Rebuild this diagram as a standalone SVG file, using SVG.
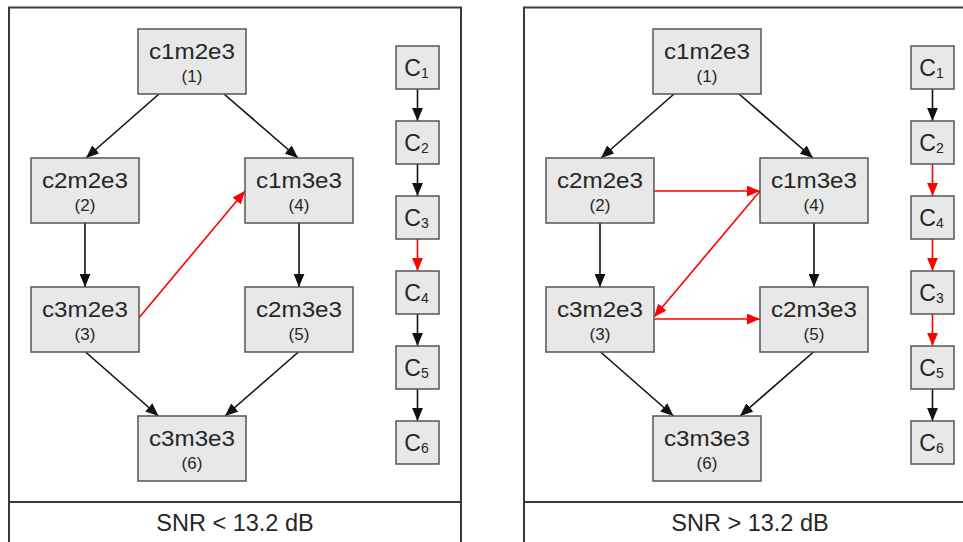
<svg xmlns="http://www.w3.org/2000/svg" width="963" height="542" viewBox="0 0 963 542">
<style>
text{font-family:"Liberation Sans",Arial,sans-serif;fill:#262626}
.panel{fill:#fff;stroke:#3a3a3a;stroke-width:2}
.box{fill:#e8e8e8;stroke:#555;stroke-width:1.5}
.main{font-size:21.5px;text-anchor:middle}
.num{font-size:17px;text-anchor:middle}
.cl{font-size:23px;text-anchor:middle}
.sub{font-size:14px}
.snr{font-size:23.5px;text-anchor:middle}
.e{fill:none;stroke:#111;stroke-width:1.6;marker-end:url(#ab)}
.r{fill:none;stroke:#ff0000;stroke-width:1.6;marker-end:url(#ar)}
</style>
<defs>
<marker id="ab" viewBox="0 0 12 10" refX="12" refY="5" markerWidth="13" markerHeight="11" markerUnits="userSpaceOnUse" orient="auto"><path d="M0,0 L12,5 L0,10 z" fill="#111"/></marker>
<marker id="ar" viewBox="0 0 12 10" refX="12" refY="5" markerWidth="13" markerHeight="11" markerUnits="userSpaceOnUse" orient="auto"><path d="M0,0 L12,5 L0,10 z" fill="#ff0000"/></marker>
</defs>

<g id="panel-left">
<rect class="panel" x="9" y="7.5" width="452" height="545"/>
<line x1="9" y1="502" x2="461" y2="502" stroke="#3a3a3a" stroke-width="2"/>
<text class="snr" x="235" y="531">SNR &lt; 13.2 dB</text>
</g>
<g id="panel-right">
<rect class="panel" x="524" y="7.5" width="452" height="545"/>
<line x1="524" y1="502" x2="976" y2="502" stroke="#3a3a3a" stroke-width="2"/>
<text class="snr" x="750" y="531">SNR &gt; 13.2 dB</text>
</g>

<g id="connectors">
<path class="e" d="M159,94 L86,158"/>
<path class="e" d="M224,94 L298,158"/>
<path class="e" d="M85,223 L85,287"/>
<path class="e" d="M299,223 L299,287"/>
<path class="e" d="M85,351.5 L158.5,416"/>
<path class="e" d="M299,351.5 L225,416"/>
<path class="r" d="M138,319 L245,191"/>
<path class="e" d="M417.5,89 L417.5,121"/>
<path class="e" d="M417.5,164 L417.5,196"/>
<path class="r" d="M417.5,239 L417.5,271"/>
<path class="e" d="M417.5,314 L417.5,346"/>
<path class="e" d="M417.5,389 L417.5,421"/>

<path class="e" d="M674,94 L601,158"/>
<path class="e" d="M739,94 L813,158"/>
<path class="e" d="M600,223 L600,287"/>
<path class="e" d="M814,223 L814,287"/>
<path class="e" d="M600,351.5 L673.5,416"/>
<path class="e" d="M814,351.5 L740,416"/>
<path class="r" d="M653,191 L760,191"/>
<path class="r" d="M760,191 L654,317"/>
<path class="r" d="M653,319 L760,319"/>
<path class="e" d="M932.5,89 L932.5,121"/>
<path class="r" d="M932.5,164 L932.5,196"/>
<path class="r" d="M932.5,239 L932.5,271"/>
<path class="r" d="M932.5,314 L932.5,346"/>
<path class="e" d="M932.5,389 L932.5,421"/>
</g>

<g id="L-n1"><rect class="box" x="138" y="29" width="108" height="65"/><text class="main" x="192" y="58.5" textLength="86" lengthAdjust="spacingAndGlyphs">c1m2e3</text><text class="num" x="192" y="81.5">(1)</text></g>
<g id="L-n2"><rect class="box" x="31" y="158" width="108" height="65"/><text class="main" x="85" y="187.5" textLength="86" lengthAdjust="spacingAndGlyphs">c2m2e3</text><text class="num" x="85" y="210.5">(2)</text></g>
<g id="L-n4"><rect class="box" x="245" y="158" width="108" height="65"/><text class="main" x="299" y="187.5" textLength="86" lengthAdjust="spacingAndGlyphs">c1m3e3</text><text class="num" x="299" y="210.5">(4)</text></g>
<g id="L-n3"><rect class="box" x="31" y="287" width="108" height="65"/><text class="main" x="85" y="316.5" textLength="86" lengthAdjust="spacingAndGlyphs">c3m2e3</text><text class="num" x="85" y="339.5">(3)</text></g>
<g id="L-n5"><rect class="box" x="245" y="287" width="108" height="65"/><text class="main" x="299" y="316.5" textLength="86" lengthAdjust="spacingAndGlyphs">c2m3e3</text><text class="num" x="299" y="339.5">(5)</text></g>
<g id="L-n6"><rect class="box" x="138" y="416" width="108" height="65"/><text class="main" x="192" y="445.5" textLength="86" lengthAdjust="spacingAndGlyphs">c3m3e3</text><text class="num" x="192" y="468.5">(6)</text></g>

<g id="L-C1"><rect class="box" x="396" y="46" width="43" height="43"/><text class="cl" x="416.5" y="75.5">C<tspan class="sub" dy="2">1</tspan></text></g>
<g id="L-C2"><rect class="box" x="396" y="121" width="43" height="43"/><text class="cl" x="416.5" y="150.5">C<tspan class="sub" dy="2">2</tspan></text></g>
<g id="L-C3"><rect class="box" x="396" y="196" width="43" height="43"/><text class="cl" x="416.5" y="225.5">C<tspan class="sub" dy="2">3</tspan></text></g>
<g id="L-C4"><rect class="box" x="396" y="271" width="43" height="43"/><text class="cl" x="416.5" y="300.5">C<tspan class="sub" dy="2">4</tspan></text></g>
<g id="L-C5"><rect class="box" x="396" y="346" width="43" height="43"/><text class="cl" x="416.5" y="375.5">C<tspan class="sub" dy="2">5</tspan></text></g>
<g id="L-C6"><rect class="box" x="396" y="421" width="43" height="43"/><text class="cl" x="416.5" y="450.5">C<tspan class="sub" dy="2">6</tspan></text></g>

<g id="R-n1"><rect class="box" x="653" y="29" width="108" height="65"/><text class="main" x="707" y="58.5" textLength="86" lengthAdjust="spacingAndGlyphs">c1m2e3</text><text class="num" x="707" y="81.5">(1)</text></g>
<g id="R-n2"><rect class="box" x="546" y="158" width="108" height="65"/><text class="main" x="600" y="187.5" textLength="86" lengthAdjust="spacingAndGlyphs">c2m2e3</text><text class="num" x="600" y="210.5">(2)</text></g>
<g id="R-n4"><rect class="box" x="760" y="158" width="108" height="65"/><text class="main" x="814" y="187.5" textLength="86" lengthAdjust="spacingAndGlyphs">c1m3e3</text><text class="num" x="814" y="210.5">(4)</text></g>
<g id="R-n3"><rect class="box" x="546" y="287" width="108" height="65"/><text class="main" x="600" y="316.5" textLength="86" lengthAdjust="spacingAndGlyphs">c3m2e3</text><text class="num" x="600" y="339.5">(3)</text></g>
<g id="R-n5"><rect class="box" x="760" y="287" width="108" height="65"/><text class="main" x="814" y="316.5" textLength="86" lengthAdjust="spacingAndGlyphs">c2m3e3</text><text class="num" x="814" y="339.5">(5)</text></g>
<g id="R-n6"><rect class="box" x="653" y="416" width="108" height="65"/><text class="main" x="707" y="445.5" textLength="86" lengthAdjust="spacingAndGlyphs">c3m3e3</text><text class="num" x="707" y="468.5">(6)</text></g>

<g id="R-C1"><rect class="box" x="911" y="46" width="43" height="43"/><text class="cl" x="931.5" y="75.5">C<tspan class="sub" dy="2">1</tspan></text></g>
<g id="R-C2"><rect class="box" x="911" y="121" width="43" height="43"/><text class="cl" x="931.5" y="150.5">C<tspan class="sub" dy="2">2</tspan></text></g>
<g id="R-C4"><rect class="box" x="911" y="196" width="43" height="43"/><text class="cl" x="931.5" y="225.5">C<tspan class="sub" dy="2">4</tspan></text></g>
<g id="R-C3"><rect class="box" x="911" y="271" width="43" height="43"/><text class="cl" x="931.5" y="300.5">C<tspan class="sub" dy="2">3</tspan></text></g>
<g id="R-C5"><rect class="box" x="911" y="346" width="43" height="43"/><text class="cl" x="931.5" y="375.5">C<tspan class="sub" dy="2">5</tspan></text></g>
<g id="R-C6"><rect class="box" x="911" y="421" width="43" height="43"/><text class="cl" x="931.5" y="450.5">C<tspan class="sub" dy="2">6</tspan></text></g>
</svg>
